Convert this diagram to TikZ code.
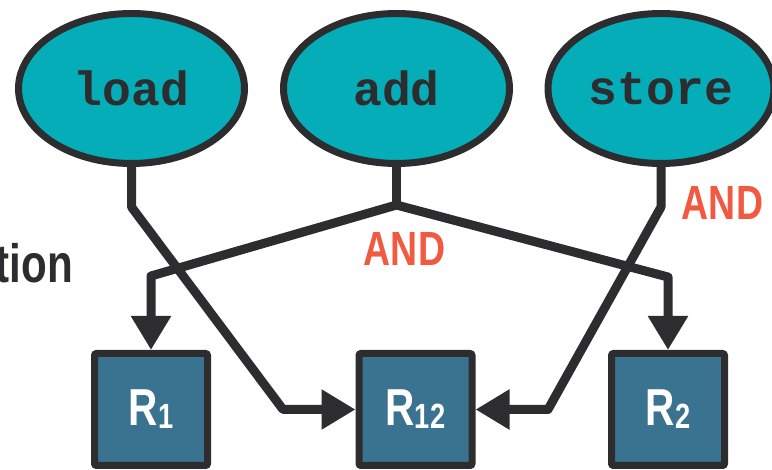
\documentclass[tikz,border=0pt]{standalone}
\usepackage{fontspec}
\usetikzlibrary{arrows.meta,shapes.geometric}
\newfontfamily\codefont{Liberation Mono}
\newfontfamily\narrowfont{Liberation Sans}[FakeStretch=0.78]
\definecolor{inkdark}{HTML}{2D2D30}
\definecolor{opteal}{HTML}{04ADB7}
\definecolor{regblue}{HTML}{3A7390}
\definecolor{andred}{HTML}{F15A40}
\newcommand{\regname}[1]{\narrowfont\bfseries\fontsize{52}{52}\selectfont R\raisebox{-3pt}{\fontsize{35}{35}\selectfont #1}}
\tikzset{
  opnode/.style={ellipse, draw=inkdark, fill=opteal, line width=7pt,
    minimum width=226pt, minimum height=150pt, inner sep=0pt,
    font=\codefont\bfseries\fontsize{48}{48}\selectfont, text=inkdark},
  regnode/.style={rectangle, rounded corners=2pt, draw=inkdark, fill=regblue,
    line width=7pt, minimum width=113pt, minimum height=112pt, inner sep=0pt,
    text=white},
  andlabel/.style={font=\narrowfont\bfseries\fontsize{48}{48}\selectfont,
    text=andred, inner sep=0pt, anchor=base},
  dep/.style={draw=inkdark, line width=9pt, line join=round},
  deparrow/.style={dep, -{Triangle[length=34pt,width=38pt]}},
}
\begin{document}
\begin{tikzpicture}[x=1pt, y=-1pt]
  \useasboundingbox (0,0) rectangle (772,470);

  % instructions
  \node[opnode] (load)  at (131.5,88.5) {load};
  \node[opnode] (add)   at (396.5,88.5) {add};
  \node[opnode] (store) at (661,88.5)   {store};

  % registers
  \node[regnode] (r1)  at (151,409.5)   {\regname{1}};
  \node[regnode] (r12) at (415.5,409.5) {\regname{12}};
  \node[regnode] (r2)  at (668,409.5)   {\regname{2}};

  % bend points of the dependency lines
  \coordinate (loadbend) at (131.5,207);
  \coordinate (loadfoot) at (283,409.5);
  \coordinate (fork)     at (396.5,205);
  \coordinate (leftfoot) at (151,276);
  \coordinate (rightfoot) at (668,277);
  \coordinate (storebend) at (661,207);
  \coordinate (storefoot) at (548,409.5);

  % dependencies
  \draw[deparrow] (load.south) -- (loadbend) -- (loadfoot) -- (r12.west);
  \draw[dep] (add.south) -- (fork);
  \draw[deparrow] (fork) -- (leftfoot) -- (r1.north);
  \draw[deparrow] (fork) -- (rightfoot) -- (r2.north);
  \draw[deparrow] (store.south) -- (storebend) -- (storefoot) -- (r12.east);

  % labels
  \node[andlabel] (and1) at (404.5,266) {AND};
  \node[andlabel] (and2) at (722.5,220) {AND};
  \node[font=\narrowfont\bfseries\fontsize{54}{54}\selectfont, text=inkdark,
        inner sep=0pt, anchor=base east] (caption) at (73,283) {tion};
\end{tikzpicture}
\end{document}
